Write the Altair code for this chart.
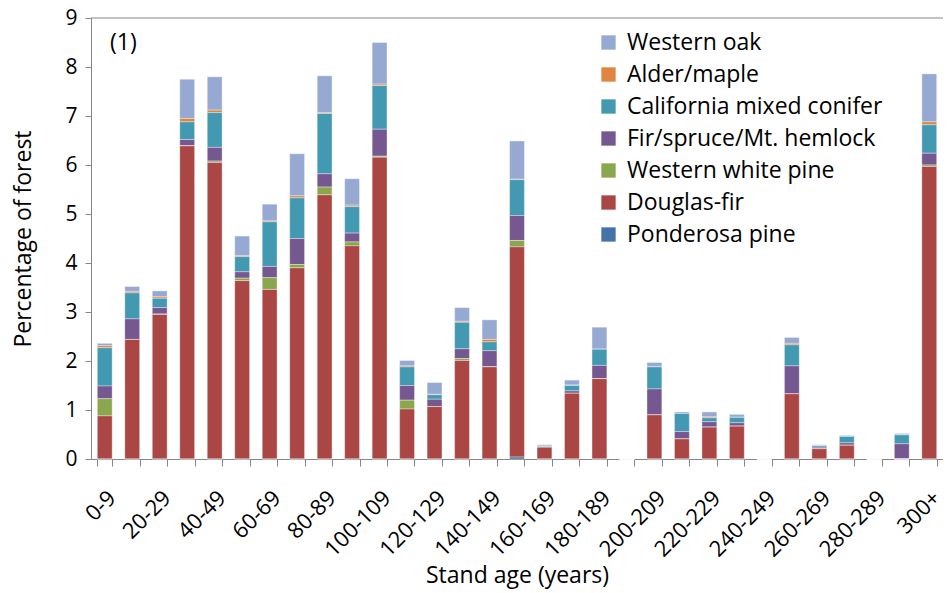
import altair as alt
import pandas as pd

cats = ['0-9', '10-19', '20-29', '30-39', '40-49', '50-59', '60-69', '70-79', '80-89', '90-99',
        '100-109', '110-119', '120-129', '130-139', '140-149', '150-159', '160-169', '170-179',
        '180-189', '190-199', '200-209', '210-219', '220-229', '230-239', '240-249', '250-259',
        '260-269', '270-279', '280-289', '290-299', '300+']

ponderosa = [0, 0, 0, 0, 0, 0, 0, 0, 0, 0, 0, 0, 0, 0, 0, 0.04, 0, 0, 0, 0, 0, 0, 0, 0, 0, 0, 0, 0, 0, 0, 0]
douglas = [0.88, 2.44, 2.95, 6.39, 6.05, 3.64, 3.46, 3.90, 5.39, 4.35, 6.16, 1.02, 1.07, 2.01, 1.88, 4.29,
           0.24, 1.34, 1.64, 0, 0.90, 0.41, 0.65, 0.67, 0, 1.33, 0.21, 0.28, 0, 0.0, 5.97]
wwp = [0.35, 0, 0.01, 0, 0.03, 0.05, 0.24, 0.07, 0.16, 0.08, 0.02, 0.18, 0, 0.04, 0, 0.13,
       0, 0, 0, 0, 0, 0, 0, 0, 0, 0, 0, 0, 0, 0, 0.03]
fir = [0.26, 0.42, 0.13, 0.13, 0.28, 0.13, 0.23, 0.53, 0.27, 0.18, 0.55, 0.30, 0.15, 0.20, 0.33, 0.51,
       0, 0.05, 0.27, 0, 0.53, 0.15, 0.11, 0.07, 0, 0.57, 0.03, 0.05, 0, 0.31, 0.24]
cmc = [0.78, 0.53, 0.19, 0.36, 0.71, 0.31, 0.91, 0.83, 1.23, 0.54, 0.89, 0.38, 0.09, 0.54, 0.18, 0.73,
       0.02, 0.11, 0.33, 0, 0.45, 0.37, 0.08, 0.11, 0, 0.43, 0.03, 0.13, 0, 0.18, 0.58]
alder = [0.04, 0.03, 0.03, 0.07, 0.05, 0.02, 0.02, 0.04, 0.02, 0.03, 0.03, 0.02, 0.01, 0.02, 0.05, 0.01,
         0, 0.01, 0, 0, 0, 0, 0.02, 0, 0, 0.03, 0, 0, 0, 0, 0.06]
oak = [0.05, 0.10, 0.12, 0.80, 0.68, 0.40, 0.34, 0.86, 0.75, 0.54, 0.85, 0.11, 0.24, 0.28, 0.40, 0.78,
       0.03, 0.10, 0.45, 0, 0.09, 0.03, 0.10, 0.06, 0, 0.12, 0.02, 0.02, 0, 0.03, 0.98]

series_names = ['Western oak', 'Alder/maple', 'California mixed conifer', 'Fir/spruce/Mt. hemlock',
                'Western white pine', 'Douglas-fir', 'Ponderosa pine']
series_vals = [oak, alder, cmc, fir, wwp, douglas, ponderosa]
series_colors = ['#95A9D3', '#DF8540', '#4399B1', '#74588F', '#8BA74E', '#AA4644', '#4572A8']

y_max = 9

rows = []
for si, (name, vals) in enumerate(zip(series_names, series_vals)):
    for c, v in zip(cats, vals):
        rows.append({'age': c, 'type': name, 'value': v, 'ord': len(series_names) - si})
df = pd.DataFrame(rows)

hidden = [c for i, c in enumerate(cats) if i % 2 == 1]
label_expr = "indexof(" + str(hidden).replace("'", '"') + ", datum.value) >= 0 ? '' : datum.label"

FONT = 'Open Sans'
AXC = '#868686'

bars = alt.Chart(df).mark_bar(stroke='white', strokeWidth=0.6, strokeOpacity=0.6).encode(
    x=alt.X('age:N', sort=cats, scale=alt.Scale(paddingInner=0.46, paddingOuter=0.23),
            axis=alt.Axis(title='Stand age (years)', labelAngle=-45, labelExpr=label_expr,
                          tickBand='extent', tickSize=7, tickColor=AXC, domainColor=AXC,
                          labelFontSize=22, titleFontSize=23, labelFont=FONT, titleFont=FONT,
                          titleFontWeight='normal', labelColor='black', titleColor='black',
                          labelPadding=21, titlePadding=4)),
    y=alt.Y('value:Q', stack='zero', scale=alt.Scale(domain=[0, y_max], nice=False),
            axis=alt.Axis(title='Percentage of forest', values=list(range(10)), grid=False,
                          tickSize=6, tickColor=AXC, domainColor=AXC,
                          labelFontSize=21, titleFontSize=23, labelFont=FONT, titleFont=FONT,
                          titleFontWeight='normal', labelColor='black', titleColor='black',
                          labelPadding=8, titlePadding=29)),
    color=alt.Color('type:N', scale=alt.Scale(domain=series_names, range=series_colors),
                    legend=alt.Legend(title=None, orient='none', legendX=506, legendY=13,
                                      symbolType='square', symbolSize=205, symbolStrokeWidth=0,
                                      labelFontSize=23, labelFont=FONT, labelColor='black',
                                      rowPadding=8, labelOffset=7, padding=0, labelLimit=400)),
    order=alt.Order('ord:Q', sort='ascending'),
)

top_line = alt.Chart(pd.DataFrame({'v': [y_max]})).mark_rule(color=AXC, strokeWidth=1).encode(
    y=alt.Y('v:Q')
)

panel = ['(1)']
label = alt.Chart(pd.DataFrame({'t': panel})).mark_text(
    fontSize=23, font=FONT, align='left', baseline='middle', color='black'
).encode(x=alt.value(19), y=alt.value(25), text='t:N')

chart = alt.layer(bars, top_line, label).properties(
    width=852, height=441,
    autosize=alt.AutoSizeParams(type='none'),
    padding={'left': 83, 'top': 10, 'right': 0, 'bottom': 134},
).configure_view(stroke=None)

chart.save('out.html', embed_options={'renderer': 'svg', 'actions': False})
